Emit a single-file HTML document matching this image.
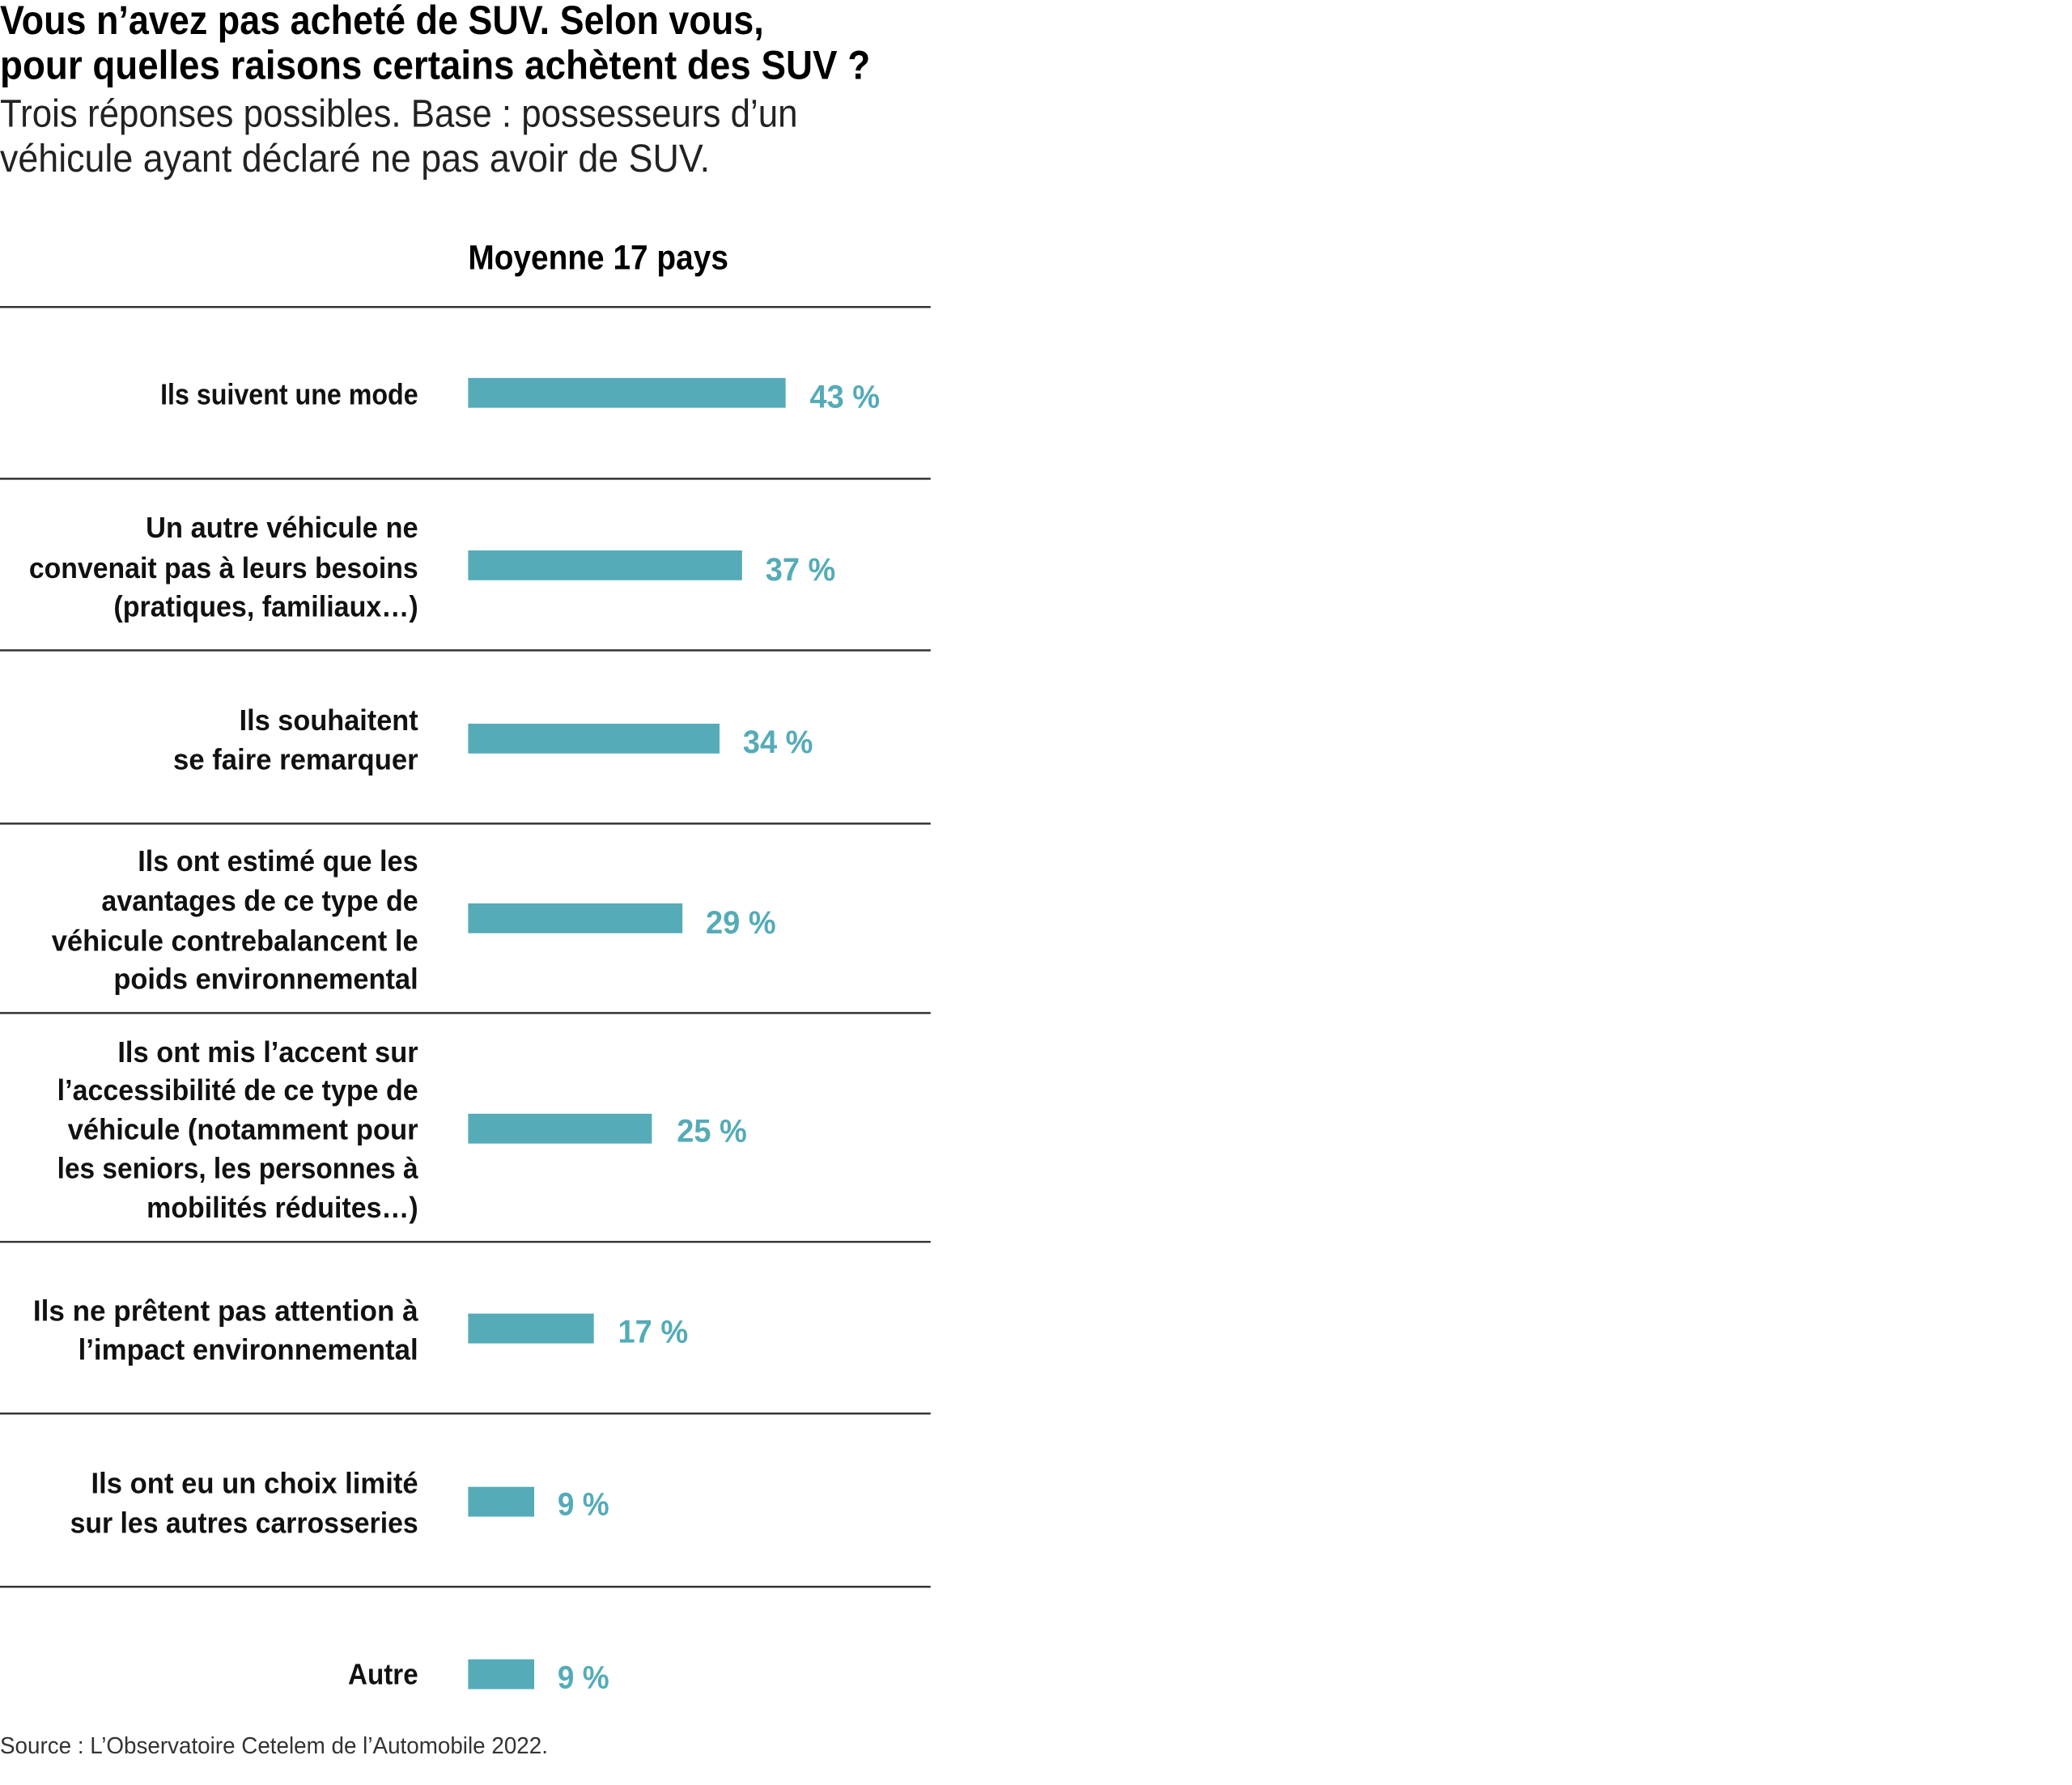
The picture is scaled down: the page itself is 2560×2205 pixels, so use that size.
<!DOCTYPE html>
<html><head><meta charset="utf-8"><style>html,body{margin:0;padding:0;background:#fff}svg{display:block}</style></head>
<body>
<svg width="2560" height="2205" viewBox="0 0 2560 2205" xmlns="http://www.w3.org/2000/svg" font-family="Liberation Sans, sans-serif">
<g transform="scale(0.9955)">
<g font-weight="bold" font-size="50" fill="#000">
<text x="0" y="42" textLength="948" lengthAdjust="spacingAndGlyphs">Vous n’avez pas acheté de SUV. Selon vous,</text>
<text x="0" y="98" textLength="1080" lengthAdjust="spacingAndGlyphs">pour quelles raisons certains achètent des SUV ?</text>
</g>
<g font-size="48" fill="#222">
<text x="0" y="157" textLength="990" lengthAdjust="spacingAndGlyphs">Trois réponses possibles. Base : possesseurs d’un</text>
<text x="0" y="213" textLength="881" lengthAdjust="spacingAndGlyphs">véhicule ayant déclaré ne pas avoir de SUV.</text>
</g>
<text x="581" y="334" font-weight="bold" font-size="43" textLength="323" lengthAdjust="spacingAndGlyphs">Moyenne 17 pays</text>
<g stroke="#333" stroke-width="2.5">
<line x1="0" y1="381" x2="1155" y2="381"/><line x1="0" y1="594" x2="1155" y2="594"/>
<line x1="0" y1="807" x2="1155" y2="807"/><line x1="0" y1="1022" x2="1155" y2="1022"/>
<line x1="0" y1="1257" x2="1155" y2="1257"/><line x1="0" y1="1541" x2="1155" y2="1541"/>
<line x1="0" y1="1754" x2="1155" y2="1754"/><line x1="0" y1="1969" x2="1155" y2="1969"/>
</g>
<g fill="#55abb8">
<rect x="581" y="469" width="394" height="37"/>
<rect x="581" y="683" width="340" height="37"/>
<rect x="581" y="898" width="312" height="37"/>
<rect x="581" y="1121" width="266" height="37"/>
<rect x="581" y="1382" width="228" height="37"/>
<rect x="581" y="1630" width="156" height="37"/>
<rect x="581" y="1845" width="82" height="37"/>
<rect x="581" y="2059" width="82" height="37"/>
</g>
<g fill="#55abb8" font-weight="bold" font-size="40">
<text x="1005" y="506" textLength="87" lengthAdjust="spacingAndGlyphs">43 %</text>
<text x="950" y="720" textLength="87" lengthAdjust="spacingAndGlyphs">37 %</text>
<text x="922" y="934" textLength="87" lengthAdjust="spacingAndGlyphs">34 %</text>
<text x="876" y="1158" textLength="87" lengthAdjust="spacingAndGlyphs">29 %</text>
<text x="840" y="1417" textLength="87" lengthAdjust="spacingAndGlyphs">25 %</text>
<text x="767" y="1666" textLength="87" lengthAdjust="spacingAndGlyphs">17 %</text>
<text x="692" y="1880" textLength="64" lengthAdjust="spacingAndGlyphs">9 %</text>
<text x="692" y="2095" textLength="64" lengthAdjust="spacingAndGlyphs">9 %</text>
</g>
<g font-size="36" fill="#111" text-anchor="end" font-weight="bold">
<text x="519" y="502" textLength="320" lengthAdjust="spacingAndGlyphs">Ils suivent une mode</text>
<text x="519" y="667" textLength="338" lengthAdjust="spacingAndGlyphs">Un autre véhicule ne</text>
<text x="519" y="717" textLength="483" lengthAdjust="spacingAndGlyphs">convenait pas à leurs besoins</text>
<text x="519" y="765" textLength="378" lengthAdjust="spacingAndGlyphs">(pratiques, familiaux…)</text>
<text x="519" y="906" textLength="222" lengthAdjust="spacingAndGlyphs">Ils souhaitent</text>
<text x="519" y="955" textLength="304" lengthAdjust="spacingAndGlyphs">se faire remarquer</text>
<text x="519" y="1081" textLength="348" lengthAdjust="spacingAndGlyphs">Ils ont estimé que les</text>
<text x="519" y="1130" textLength="393" lengthAdjust="spacingAndGlyphs">avantages de ce type de</text>
<text x="519" y="1180" textLength="455" lengthAdjust="spacingAndGlyphs">véhicule contrebalancent le</text>
<text x="519" y="1227" textLength="378" lengthAdjust="spacingAndGlyphs">poids environnemental</text>
<text x="519" y="1318" textLength="373" lengthAdjust="spacingAndGlyphs">Ils ont mis l’accent sur</text>
<text x="519" y="1365" textLength="448" lengthAdjust="spacingAndGlyphs">l’accessibilité de ce type de</text>
<text x="519" y="1414" textLength="435" lengthAdjust="spacingAndGlyphs">véhicule (notamment pour</text>
<text x="519" y="1462" textLength="448" lengthAdjust="spacingAndGlyphs">les seniors, les personnes à</text>
<text x="519" y="1511" textLength="337" lengthAdjust="spacingAndGlyphs">mobilités réduites…)</text>
<text x="519" y="1639" textLength="478" lengthAdjust="spacingAndGlyphs">Ils ne prêtent pas attention à</text>
<text x="519" y="1687" textLength="422" lengthAdjust="spacingAndGlyphs">l’impact environnemental</text>
<text x="519" y="1853" textLength="406" lengthAdjust="spacingAndGlyphs">Ils ont eu un choix limité</text>
<text x="519" y="1902" textLength="432" lengthAdjust="spacingAndGlyphs">sur les autres carrosseries</text>
<text x="519" y="2090" textLength="87" lengthAdjust="spacingAndGlyphs">Autre</text>
</g>
<text x="0" y="2176" font-size="29" fill="#333" textLength="680" lengthAdjust="spacingAndGlyphs">Source : L’Observatoire Cetelem de l’Automobile 2022.</text>
</g>
</svg>
</body></html>
